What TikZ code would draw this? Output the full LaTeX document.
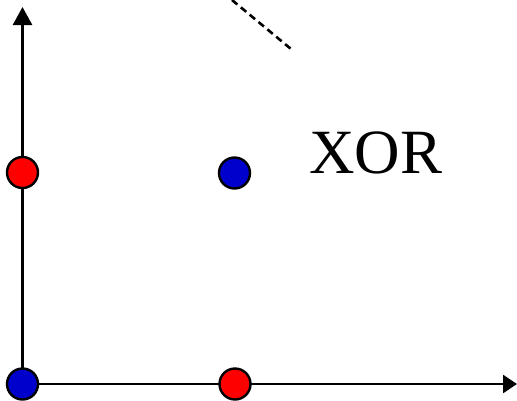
\documentclass[tikz,border=0pt]{standalone}
\usepackage{fontspec}
\setmainfont{Liberation Serif}
\usetikzlibrary{arrows.meta}
\definecolor{ptred}{RGB}{255,0,0}
\definecolor{ptblue}{RGB}{0,0,204}
\tikzset{
  axis/.style={line width=2.6pt},
  pt/.style={circle, draw=black, line width=2.4pt, minimum size=31pt, inner sep=0pt},
  redpt/.style={pt, fill=ptred},
  bluept/.style={pt, fill=ptblue},
  sep/.style={line width=2.6pt, dash pattern=on 7pt off 4.5pt}
}
\begin{document}
\begin{tikzpicture}[x=1pt,y=-1pt]
\useasboundingbox (0,0) rectangle (517,400);
\coordinate (o) at (22.5,384);
\coordinate (ytop) at (22.5,7);
\coordinate (xend) at (517,384);
\coordinate (d1) at (232,0);
\coordinate (d2) at (291,49);
\draw[axis,-{Triangle[length=18pt,width=19pt]}] (o) -- (ytop);
\draw[axis,-{Triangle[length=14pt,width=18pt]}] (o) -- (xend);
\draw[sep] (d1) -- (d2);
\node[redpt] (p01) at (22.5,172.5) {};
\node[bluept] (p11) at (234.5,173) {};
\node[bluept] (p00) at (22.5,384) {};
\node[redpt] (p10) at (235,384) {};
\node[font=\fontsize{63}{63}\selectfont, inner sep=0pt, anchor=base west] (xor) at (309,173) {XOR};
\end{tikzpicture}
\end{document}
